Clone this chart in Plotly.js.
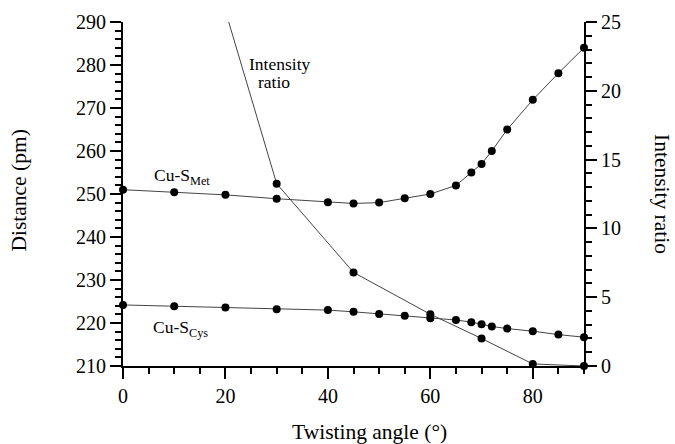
<!DOCTYPE html>
<html>
<head>
<meta charset="utf-8">
<script src="https://cdn.plot.ly/plotly-3.0.1.min.js"></script>
<style>
  html, body { margin: 0; padding: 0; background: #fff; }
  #chart { width: 675px; height: 444px; }
</style>
</head>
<body>
<div id="chart"></div>
<script>
// Twisting angle (degrees) at which the Cu–S distances were computed
const angleDist = [0, 10, 20, 30, 40, 45, 50, 55, 60, 65, 68, 70, 72, 75, 80, 85, 90];
// Cu–S(Met) distance, pm
const cuSMet = [251.0, 250.4, 249.8, 248.9, 248.1, 247.8, 248.0, 249.0, 250.0, 252.0, 255.0, 257.0, 260.0, 265.0, 271.9, 278.1, 284.0];
// Cu–S(Cys) distance, pm
const cuSCys = [224.2, 223.9, 223.6, 223.2, 223.0, 222.6, 222.1, 221.7, 221.1, 220.7, 220.2, 219.7, 219.2, 218.7, 218.1, 217.3, 216.7];

// Intensity ratio vs twisting angle
const angleRatio = [20, 30, 45, 60, 70, 80, 90];
const intensityRatio = [25.8, 13.25, 6.8, 3.76, 2.0, 0.15, 0.0];

// Axis ranges
const xRange = [0, 90];
const distRange = [210, 290];
const ratioRange = [0, 25];

const FONT = '"Liberation Serif", "Times New Roman", Times, serif';
const lineStyle = { color: '#444', width: 1 };
const markerStyle = { color: '#000', size: 8 };

// ratio points that fall inside the right-hand axis get a marker
const ratioIn = angleRatio.map((a, i) => [a, intensityRatio[i]])
  .filter(p => p[1] <= ratioRange[1]);

const traces = [
  {
    x: angleDist, y: cuSMet, type: 'scatter', mode: 'lines+markers',
    line: lineStyle, marker: markerStyle, cliponaxis: false,
    hoverinfo: 'x+y', showlegend: false
  },
  {
    x: angleDist, y: cuSCys, type: 'scatter', mode: 'lines+markers',
    line: lineStyle, marker: markerStyle, cliponaxis: false,
    hoverinfo: 'x+y', showlegend: false
  },
  {
    x: angleRatio, y: intensityRatio, type: 'scatter', mode: 'lines',
    yaxis: 'y2', line: lineStyle, hoverinfo: 'skip', showlegend: false
  },
  {
    x: ratioIn.map(p => p[0]), y: ratioIn.map(p => p[1]),
    type: 'scatter', mode: 'markers', yaxis: 'y2',
    marker: markerStyle, cliponaxis: false,
    hoverinfo: 'x+y', showlegend: false
  }
];

const axisCommon = {
  showline: true, linecolor: '#000', linewidth: 2,
  ticks: 'outside', ticklen: 11, tickwidth: 2, tickcolor: '#000',
  showgrid: false, zeroline: false,
  tickfont: { family: FONT, size: 20, color: '#000' }
};

const layout = {
  width: 675, height: 444,
  margin: { l: 123, r: 91, t: 22, b: 78, pad: 0 },
  paper_bgcolor: '#fff', plot_bgcolor: '#fff',
  font: { family: FONT, color: '#000' },
  showlegend: false,
  xaxis: Object.assign({}, axisCommon, {
    range: xRange, dtick: 20, tick0: 0,
    minor: { dtick: 5, ticklen: 6, tickwidth: 2, ticks: 'outside', tickcolor: '#000' }
  }),
  yaxis: Object.assign({}, axisCommon, {
    range: distRange, dtick: 10, tick0: 210,
    minor: { dtick: 2, ticklen: 6, tickwidth: 2, ticks: 'outside', tickcolor: '#000' }
  }),
  yaxis2: Object.assign({}, axisCommon, {
    range: ratioRange, dtick: 5, tick0: 0, overlaying: 'y', side: 'right',
    minor: { dtick: 1, ticklen: 6, tickwidth: 2, ticks: 'outside', tickcolor: '#000' }
  }),
  annotations: [
    { // x axis title
      text: 'Twisting angle (°)', xref: 'paper', yref: 'paper',
      x: 0.534, y: 0, yshift: -66, xanchor: 'center', yanchor: 'middle',
      showarrow: false, font: { family: FONT, size: 21.5 }
    },
    { // left axis title
      text: 'Distance (pm)', xref: 'paper', yref: 'paper',
      x: 0, xshift: -104, y: 0.51, xanchor: 'center', yanchor: 'middle',
      textangle: -90, showarrow: false, font: { family: FONT, size: 21.5 }
    },
    { // right axis title
      text: 'Intensity ratio', xref: 'paper', yref: 'paper',
      x: 1, xshift: 78, y: 0.5, xanchor: 'center', yanchor: 'middle',
      textangle: 90, showarrow: false, font: { family: FONT, size: 21.5 }
    },
    {
      text: 'Cu-S<sub>Met</sub>', xref: 'x', yref: 'y',
      x: 5.7, y: 254.0, xanchor: 'left', yanchor: 'middle',
      showarrow: false, font: { family: FONT, size: 17.5 }
    },
    {
      text: 'Cu-S<sub>Cys</sub>', xref: 'x', yref: 'y',
      x: 5.4, y: 218.7, xanchor: 'left', yanchor: 'middle',
      showarrow: false, font: { family: FONT, size: 17.5 }
    },
    { // label for the intensity-ratio curve, first line
      text: 'Intensity', xref: 'x', yref: 'y',
      x: 30.5, y: 280.2, xanchor: 'center', yanchor: 'middle',
      showarrow: false, font: { family: FONT, size: 17.5 }
    },
    { // second line
      text: 'ratio', xref: 'x', yref: 'y',
      x: 29.4, y: 276.0, xanchor: 'center', yanchor: 'middle',
      showarrow: false, font: { family: FONT, size: 17.5 }
    }
  ]
};

Plotly.newPlot('chart', traces, layout, { displayModeBar: false, staticPlot: true });
</script>
</body>
</html>
